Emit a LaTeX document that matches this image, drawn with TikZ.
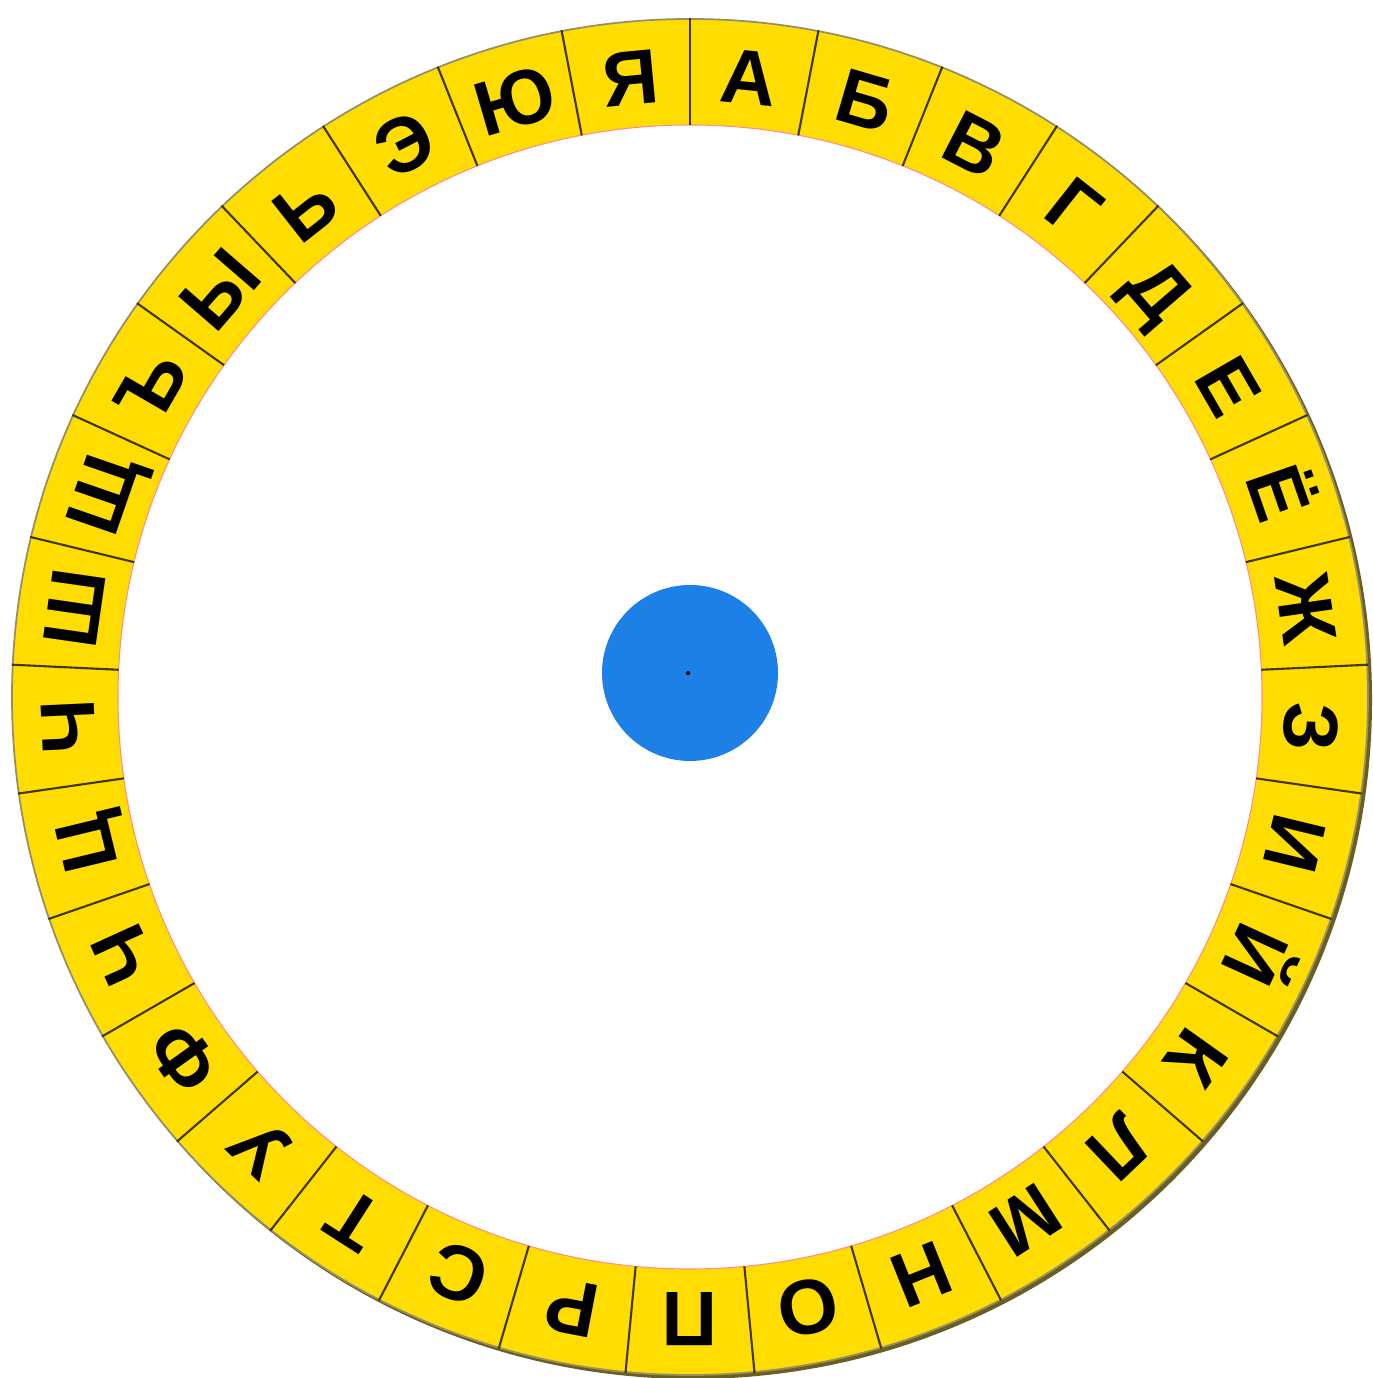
\documentclass[tikz,border=0pt]{standalone}
\usepackage{fontspec}
\setmainfont{Liberation Sans}
\usepackage{xcolor}
\usepackage{tikz}
\definecolor{wheelyellow}{RGB}{255,221,0}
\definecolor{hubblue}{RGB}{28,128,230}
\definecolor{rimshade}{RGB}{105,95,35}

\begin{document}
\begin{tikzpicture}[
    letter/.style={font=\fontsize{22}{22}\selectfont\bfseries, inner sep=0pt,
                   text height=15.8pt, text depth=0pt},
    divider/.style={line width=0.6pt, black!75!wheelyellow}
  ]
  \useasboundingbox (0,0) rectangle (13.72,13.78);

  \begin{scope}[shift={(6.90,6.81)}]
    %% Ring: shadow, yellow band, rim
    \fill[rimshade, even odd rule] (0.03,-0.03) circle (6.79) (0,0) circle (6.70);
    \fill[wheelyellow, even odd rule] (0,0) circle (6.78) (0,0) circle (5.72);
    \draw[line width=0.5pt, rimshade!70] (0,0) circle (6.78);
    \draw[line width=0.3pt, red!45] (0,0) circle (5.72);

    %% Dividers between the 33 cells
    \foreach \i in {0,...,32} {
      \draw[divider] (90-\i*360/33:5.72) -- (90-\i*360/33:6.79);
    }

    %% Letters, clockwise from the top, each standing on the inner edge
    \foreach \l [count=\i from 0] in {А,Б,В,Г,Д,Е,Ё,Ж,З,И,Й,К,Л,М,Н,О,П,Р,С,Т,У,Ф,Ч,Ц,Ч,Ш,Щ,Ъ,Ы,Ь,Э,Ю,Я} {
      \pgfmathsetmacro{\a}{90-(\i+0.5)*360/33}
      \node[letter, rotate=\a-90] (l\i) at (\a:6.23) {\l};
    }
  \end{scope}

  %% Hub
  \fill[hubblue] (6.90,7.05) circle (0.88);
  \fill[black] (6.88,7.05) circle (0.02);
\end{tikzpicture}
\end{document}
